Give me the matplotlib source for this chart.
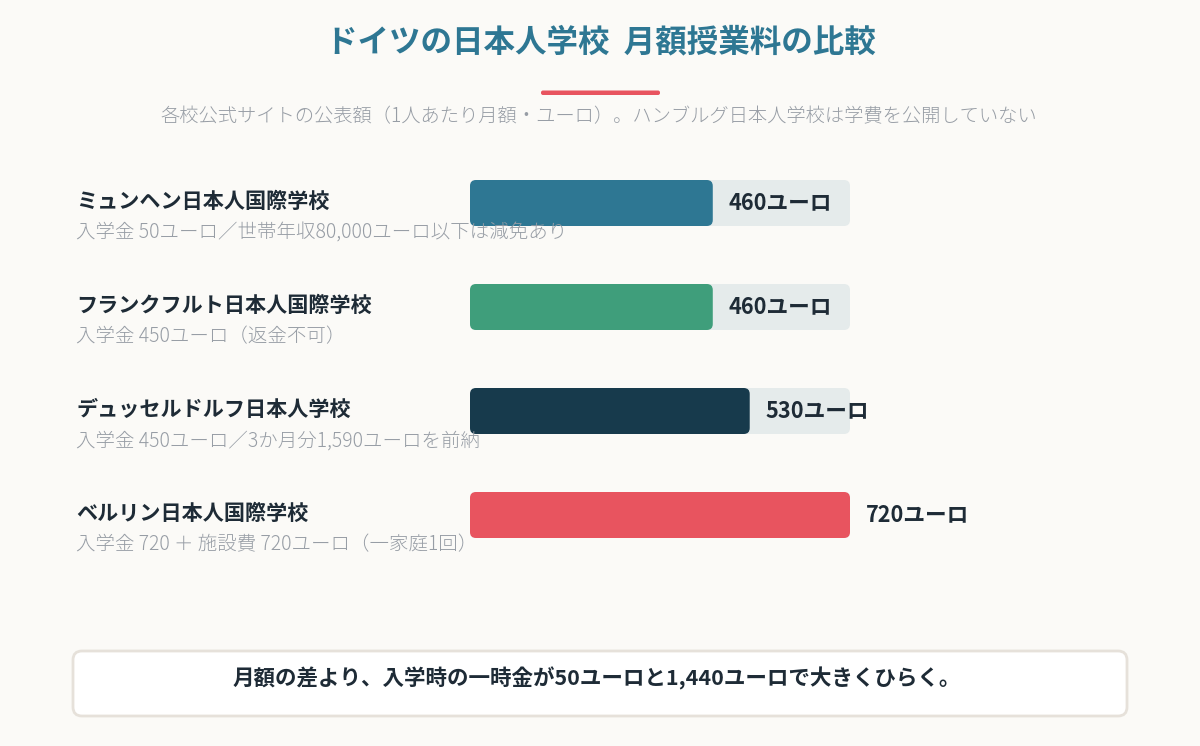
import matplotlib
matplotlib.use("Agg")
import matplotlib.pyplot as plt
from matplotlib.patches import FancyBboxPatch

plt.rcParams['font.family'] = ['Noto Sans CJK JP', 'DejaVu Sans']

# ---- data ----
schools = ["ミュンヘン日本人国際学校", "フランクフルト日本人国際学校",
           "デュッセルドルフ日本人学校", "ベルリン日本人国際学校"]
notes = ["入学金 50ユーロ／世帯年収80,000ユーロ以下は減免あり",
         "入学金 450ユーロ（返金不可）",
         "入学金 450ユーロ／3か月分1,590ユーロを前納",
         "入学金 720 ＋ 施設費 720ユーロ（一家庭1回）"]
fees = [460, 460, 530, 720]
value_labels = ["460ユーロ", "460ユーロ", "530ユーロ", "720ユーロ"]
colors = ["#2E7793", "#3F9E7B", "#173A4C", "#E8545F"]
scale_max = 720

title = "ドイツの日本人学校  月額授業料の比較"
subtitle = "各校公式サイトの公表額（1人あたり月額・ユーロ）。ハンブルグ日本人学校は学費を公開していない"
footer = "月額の差より、入学時の一時金が50ユーロと1,440ユーロで大きくひらく。"

BG = "#FBFAF7"
TRACK = "#E5EBEB"
DARK = "#1E2B36"
GRAY = "#979DA5"

W, H = 1200, 746
fig = plt.figure(figsize=(W / 100, H / 100), dpi=100, facecolor=BG)

# overlay axes in pixel coordinates
ov = fig.add_axes([0, 0, 1, 1])
ov.set_xlim(0, W)
ov.set_ylim(H, 0)
ov.axis("off")
ov.set_facecolor(BG)

ov.text(601, 42, title, ha="center", va="center", fontsize=22.7,
        fontweight="bold", color="#2E7793")
ov.add_patch(FancyBboxPatch((541, 90.5), 119, 4.5, boxstyle="round,pad=0,rounding_size=2",
                            facecolor="#E8545F", edgecolor="none"))
ov.text(599, 117, subtitle, ha="center", va="center", fontsize=13.9, color=GRAY,
        fontweight="light")

# footer box
ov.add_patch(FancyBboxPatch((73, 651), 1054, 65, boxstyle="round,pad=0,rounding_size=9",
                            facecolor="white", edgecolor="#E6E1DA", linewidth=2))
ov.text(597, 678, footer, ha="center", va="center", fontsize=15.5,
        fontweight="bold", color=DARK)

# bar axes
left_px, right_px = 470, 850
top_px, row_h = 151, 104
n = len(fees)
ax = fig.add_axes([left_px / W, 1 - (top_px + row_h * n) / H,
                   (right_px - left_px) / W, row_h * n / H])
ax.set_xlim(0, scale_max)
ax.set_ylim(n - 0.5, -0.5)
ax.axis("off")
ax.patch.set_alpha(0)

px_x = (right_px - left_px) / scale_max  # px per unit
bar_h = 46 / row_h
r_px = 6
rs = r_px / px_x
m_aspect = (1 / row_h) / (1 / px_x)

for i, (v, c) in enumerate(zip(fees, colors)):
    ax.add_patch(FancyBboxPatch((0, i - bar_h / 2), scale_max, bar_h,
                                boxstyle=f"round,pad=0,rounding_size={rs}",
                                mutation_aspect=m_aspect,
                                facecolor=TRACK, edgecolor="none"))
    ax.add_patch(FancyBboxPatch((0, i - bar_h / 2), v, bar_h,
                                boxstyle=f"round,pad=0,rounding_size={rs}",
                                mutation_aspect=m_aspect,
                                facecolor=c, edgecolor="none"))
    ax.text(v + 16 / px_x, i, value_labels[i], ha="left", va="center",
            fontsize=15.6, fontweight="bold", color=DARK)

tr = ax.get_yaxis_transform()
name_x = (76 - left_px) / (right_px - left_px)
for i, (s, nt) in enumerate(zip(schools, notes)):
    ax.text(name_x, i - 2 / row_h, s, transform=tr, ha="left", va="center",
            fontsize=15.2, fontweight="bold", color=DARK)
    ax.text(name_x, i + 30 / row_h, nt, transform=tr, ha="left", va="center",
            fontsize=14, color=GRAY, fontweight="light", clip_on=False)

fig.savefig("out.png", dpi=100, facecolor=BG)
